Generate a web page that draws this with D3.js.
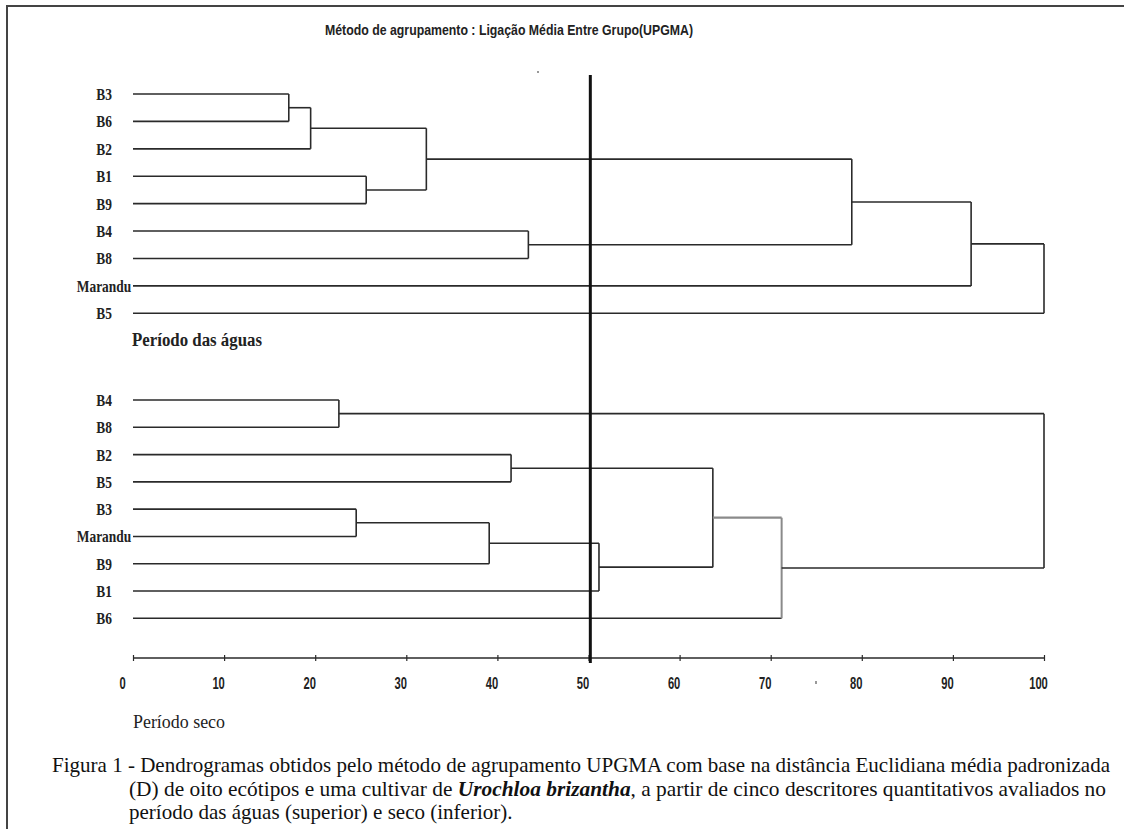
<!DOCTYPE html>
<html><head><meta charset="utf-8">
<script src="https://cdn.jsdelivr.net/npm/d3@7/dist/d3.min.js"></script>
<style>html,body{margin:0;padding:0;background:#fff}svg{display:block}</style>
</head><body>
<script>
// ---------- data ----------
const title = "Método de agrupamento : Ligação Média Entre Grupo(UPGMA)";
const leavesTop = ["B3","B6","B2","B1","B9","B4","B8","Marandu","B5"];
// merges: [childA, childB, distance]; leaves are 0..8, merge k gets id 9+k
const mergesTop = [[0,1,17.1],[9,2,19.5],[3,4,25.6],[10,11,32.2],[5,6,43.4],[12,13,78.9],[14,7,92.0],[15,8,100]];
const leavesBot = ["B4","B8","B2","B5","B3","Marandu","B9","B1","B6"];
const mergesBot = [[0,1,22.6],[2,3,41.5],[4,5,24.5],[11,6,39.1],[12,7,51.15],[10,13,63.65],[14,8,71.2],[9,15,100]];
const cutoff = 50.2;
const axisTicks = [0,10,20,30,40,50,60,70,80,90,100];
const labelTop = "Período das águas";
const labelBot = "Período seco";
const caption = [
  "Figura 1 - Dendrogramas obtidos pelo método de agrupamento UPGMA com base na distância Euclidiana média padronizada",
  "(D) de oito ecótipos e uma cultivar de ",
  "período das águas (superior) e seco (inferior)."
];
const captionItalic = "Urochloa brizantha";
const captionRest2 = ", a partir de cinco descritores quantitativos avaliados no";

// ---------- layout ----------
const W = 1124, H = 829;
const svg = d3.select("body").append("svg").attr("width", W).attr("height", H);
const x = d3.scaleLinear().domain([0,100]).range([133,1044]);
const yTop = d3.scaleLinear().domain([0,8]).range([94,313.3]);
const yBot = d3.scaleLinear().domain([0,8]).range([400,618.3]);
const lineCol = "#2a2a2a";

// border
svg.append("path").attr("d", `M7,${H} V6 H${W}`).attr("fill","none").attr("stroke","#444").attr("stroke-width",2);

// title
svg.append("text").attr("x", 325).attr("y", 35).attr("textLength", 368).attr("lengthAdjust","spacingAndGlyphs")
  .attr("font-family","Liberation Sans, Arial, sans-serif").attr("font-weight","bold").attr("font-size",14.5)
  .attr("fill","#222").text(title);

function dendro(leaves, merges, y, grayMerge) {
  const g = svg.append("g");
  const n = leaves.length;
  const pos = [], hgt = [];
  leaves.forEach((l,i) => { pos[i] = y(i); hgt[i] = 0; });
  merges.forEach((m,k) => {
    const [a,b,h] = m, id = n + k;
    pos[id] = (pos[a] + pos[b]) / 2; hgt[id] = h;
    const gray = k === grayMerge;
    [a,b].forEach(c => {
      g.append("line").attr("x1", x(hgt[c])).attr("x2", x(h)).attr("y1", pos[c]).attr("y2", pos[c])
        .attr("stroke", (c >= n && gray) ? "#8a8a8a" : lineCol).attr("stroke-width", (c >= n && gray) ? 2.2 : 1.6);
    });
    g.append("line").attr("x1", x(h)).attr("x2", x(h)).attr("y1", pos[a]).attr("y2", pos[b])
      .attr("stroke", gray ? "#8a8a8a" : lineCol).attr("stroke-width", gray ? 2 : 1.6);
  });
  leaves.forEach((l,i) => {
    g.append("text").attr("transform", `translate(104,${y(i)+6}) scale(0.84,1)`)
      .attr("text-anchor","middle").attr("font-family","Liberation Serif, Times New Roman, serif")
      .attr("font-weight","bold").attr("font-size",16).attr("fill","#222").text(l);
  });
}
dendro(leavesTop, mergesTop, yTop, -1);
dendro(leavesBot, mergesBot, yBot, 6);

// period labels
svg.append("text").attr("x",132).attr("y",346).attr("textLength",130).attr("lengthAdjust","spacingAndGlyphs")
  .attr("font-family","Liberation Serif, serif").attr("font-weight","bold").attr("font-size",18).attr("fill","#222").text(labelTop);
svg.append("text").attr("x",133).attr("y",728).attr("textLength",92).attr("lengthAdjust","spacingAndGlyphs")
  .attr("font-family","Liberation Serif, serif").attr("font-size",18).attr("fill","#222").text(labelBot);

// axis
const ax = svg.append("g").attr("transform","translate(0,658)")
  .call(d3.axisBottom(x).tickValues(axisTicks).tickSizeOuter(0).tickSizeInner(3).tickPadding(0));
ax.select(".domain").attr("stroke", lineCol).attr("stroke-width",1.6).attr("d", `M${x(0)},0H${x(100)}`);
ax.selectAll(".tick line").attr("y1",-3).attr("y2",3).attr("stroke",lineCol).attr("stroke-width",1.2);
ax.selectAll(".tick text").attr("y",0).attr("dy",0)
  .attr("transform", d => `translate(${d===0?-11:-6},31) scale(0.7,1)`)
  .attr("font-family","Liberation Sans, Arial, sans-serif").attr("font-weight","bold").attr("font-size",16).attr("fill","#222");

// cut-off line
svg.append("line").attr("x1", x(cutoff)).attr("x2", x(cutoff)).attr("y1", 75).attr("y2", 663)
  .attr("stroke","#111").attr("stroke-width",3);

// small artifacts
svg.append("rect").attr("x",537).attr("y",71).attr("width",2).attr("height",2).attr("fill","#999");
svg.append("rect").attr("x",815).attr("y",681).attr("width",2).attr("height",3).attr("fill","#999");

// caption
const capFont = "Liberation Serif, Times New Roman, serif";
const cs = 21;
const c1 = svg.append("text").attr("x",52).attr("y",772).attr("font-family",capFont).attr("font-size",cs).attr("fill","#111").text(caption[0]);
const nat1 = c1.node().getComputedTextLength();
const f = 1058 / nat1;
c1.attr("textLength",1058).attr("lengthAdjust","spacingAndGlyphs");
const c2 = svg.append("text").attr("x",129).attr("y",796).attr("font-family",capFont).attr("font-size",cs).attr("fill","#111");
c2.append("tspan").text(caption[1]);
c2.append("tspan").attr("font-weight","bold").attr("font-style","italic").text(captionItalic);
c2.append("tspan").text(captionRest2);
c2.attr("textLength",977).attr("lengthAdjust","spacingAndGlyphs");
const c3 = svg.append("text").attr("x",129).attr("y",819).attr("font-family",capFont).attr("font-size",cs).attr("fill","#111").text(caption[2]);
const nat3 = c3.node().getComputedTextLength();
c3.attr("textLength", nat3 * f).attr("lengthAdjust","spacingAndGlyphs");
</script>
</body></html>
